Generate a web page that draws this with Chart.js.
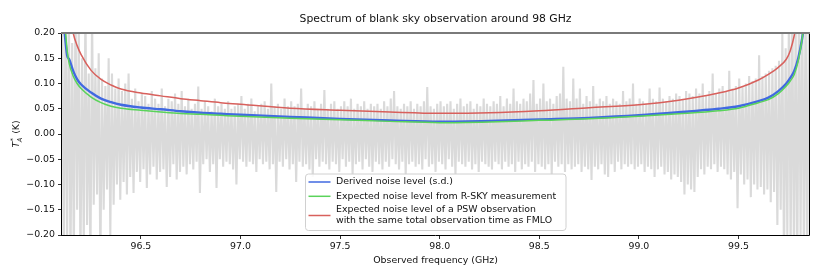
<!DOCTYPE html>
<html>
<head>
<meta charset="utf-8">
<script src="https://cdn.jsdelivr.net/npm/chart.js@4.4.1/dist/chart.umd.min.js"></script>
<style>
    html, body { margin: 0; padding: 0; background: #fff; }
    #wrap { width: 830px; height: 277px; }
</style>
</head>
<body>
<div id="wrap"><canvas id="chart" width="830" height="277"></canvas></div>
<script>
// frequency grid (GHz) for the three noise curves
const curveFreq = [96.11, 96.12, 96.13, 96.14, 96.16, 96.18, 96.20, 96.25, 96.30, 96.35, 96.40,
    96.50, 96.60, 96.70, 96.80, 96.90, 97.00, 97.25, 97.50, 97.75, 98.00, 98.25, 98.50, 98.75,
    99.00, 99.20, 99.40, 99.50, 99.60, 99.65, 99.70, 99.74, 99.76, 99.78, 99.80, 99.82, 99.83, 99.85];

// noise levels (K)
const derivedNoise = [0.23, 0.19, 0.155, 0.148, 0.125, 0.108, 0.098, 0.082, 0.070, 0.063, 0.058,
    0.0525, 0.049, 0.045, 0.042, 0.040, 0.038, 0.034, 0.030, 0.027, 0.0245, 0.026, 0.029, 0.032,
    0.037, 0.043, 0.050, 0.055, 0.065, 0.072, 0.085, 0.100, 0.111, 0.125, 0.150, 0.19, 0.22, 0.30];

const expectedRsky = [0.26, 0.21, 0.165, 0.140, 0.115, 0.100, 0.090, 0.073, 0.062, 0.055, 0.051,
    0.047, 0.0435, 0.0405, 0.039, 0.037, 0.035, 0.031, 0.028, 0.025, 0.0225, 0.024, 0.027, 0.030,
    0.035, 0.040, 0.046, 0.051, 0.062, 0.068, 0.080, 0.095, 0.105, 0.118, 0.145, 0.19, 0.22, 0.30];

const expectedPsw = [0.45, 0.36, 0.29, 0.245, 0.20, 0.175, 0.157, 0.126, 0.108, 0.097, 0.089,
    0.081, 0.0755, 0.070, 0.066, 0.062, 0.059, 0.051, 0.047, 0.0435, 0.041, 0.042, 0.046, 0.052,
    0.058, 0.067, 0.081, 0.091, 0.107, 0.118, 0.132, 0.148, 0.165, 0.195, 0.24, 0.30, 0.34, 0.45];

// blank sky spectrum, evenly spaced channels from 96.105 GHz, values in mK
const spectrumStart = 96.105;
const spectrumStep = 0.00833;
const spectrumMilliK = [
    260, -260, 240, -200, 260, -260, 180, -250, 260, -150,
    210, -260, 150, -220, 260, -180, 120, -260, 240, -140,
    130, -120, 160, -260, 110, -150, 95, -110, 150, -200,
    120, -140, 90, -100, 110, -130, 85, -95, 100, -120,
    120, -85, 70, -117, 90, -75, 65, -95, 80, -70,
    75, -107, 60, -80, 85, -65, 70, -90, 60, -75,
    90, -70, 55, -105, 70, -85, 65, -60, 80, -90,
    60, -75, 85, -65, 55, -80, 70, -60, 50, -70,
    60, -55, 94, -117, 50, -60, 65, -50, 55, -75,
    45, -60, 70, -107, 55, -50, 60, -65, 50, -55,
    65, -60, 50, -70, 55, -100, 60, -50, 75, -55,
    50, -65, 60, -55, 70, -60, 45, -75, 55, -50,
    60, -60, 65, -55, 50, -70, 100, -60, 55, -115,
    60, -55, 50, -65, 70, -50, 55, -70, 65, -60,
    55, -95, 60, -55, 90, -65, 50, -60, 60, -70,
    55, -85, 65, -50, 50, -65, 60, -55, 87, -60,
    50, -70, 60, -55, 65, -60, 50, -75, 55, -50,
    65, -65, 55, -55, 70, -80, 50, -60, 60, -55,
    55, -70, 65, -50, 50, -65, 60, -75, 55, -55,
    60, -60, 50, -70, 65, -55, 55, -65, 70, -50,
    85, -60, 55, -70, 50, -55, 60, -80, 55, -60,
    65, -55, 50, -65, 60, -60, 55, -70, 65, -50,
    93, -65, 55, -60, 50, -75, 60, -55, 65, -60,
    55, -70, 60, -50, 65, -65, 50, -80, 60, -55,
    70, -60, 55, -65, 60, -55, 65, -70, 50, -60,
    60, -75, 55, -55, 70, -60, 60, -65, 55, -70,
    65, -55, 60, -60, 75, -70, 55, -55, 70, -65,
    60, -60, 90, -75, 65, -55, 60, -70, 70, -60,
    65, -65, 80, -55, 107, -75, 60, -60, 70, -65,
    100, -70, 65, -60, 70, -80, 60, -55, 75, -65,
    80, -60, 133, -75, 70, -60, 65, -70, 110, -65,
    70, -60, 90, -75, 60, -65, 75, -70, 65, -91,
    95, -65, 60, -70, 70, -60, 65, -80, 75, -85,
    60, -60, 70, -75, 65, -55, 60, -70, 85, -60,
    65, -65, 70, -60, 100, -70, 60, -65, 70, -60,
    65, -75, 60, -65, 90, -70, 70, -85, 65, -70,
    92, -65, 70, -80, 65, -75, 75, -90, 70, -80,
    80, -85, 75, -95, 70, -120, 85, -100, 80, -110,
    75, -115, 90, -85, 80, -70, 100, -80, 75, -65,
    85, -70, 120, -60, 80, -75, 90, -65, 95, -70,
    85, -80, 125, -90, 90, -75, 95, -147, 110, -80,
    95, -100, 100, -90, 115, -125, 105, -100, 110, -110,
    156, -105, 115, -120, 120, -110, 125, -135, 130, -115,
    135, -180, 145, -150, 200, -260, 170, -200, 260, -230,
    260, -260, 220, -260, 260, -200, 260, -260, 260, -260,
    260
];

const xTickValues = [96.5, 97.0, 97.5, 98.0, 98.5, 99.0, 99.5];
const yTickValues = [-0.20, -0.15, -0.10, -0.05, 0.00, 0.05, 0.10, 0.15, 0.20];

const FONT = '"DejaVu Sans", sans-serif';
const BLUE = '#4169e1';
const GREEN = '#5ad35a';
const RED = '#d8605c';
const GREY = '#dadada';

function pairs(xs, ys) {
    return xs.map((x, i) => ({ x: x, y: ys[i] }));
}

const spectrumPoints = spectrumMilliK.map((v, i) => ({
    x: spectrumStart + i * spectrumStep,
    y: v / 1000,
}));

const framePlugin = {
    id: 'frame',
    afterDatasetsDraw(chart) {
        const a = chart.chartArea;
        const ctx = chart.ctx;
        ctx.save();
        ctx.strokeStyle = '#000';
        ctx.lineWidth = 1;
        ctx.beginPath();
        ctx.moveTo(Math.round(a.left) - 0.5, Math.round(a.top));
        ctx.lineTo(Math.round(a.left) - 0.5, Math.round(a.bottom) + 0.5);
        ctx.lineTo(Math.round(a.right) + 0.5, Math.round(a.bottom) + 0.5);
        ctx.lineTo(Math.round(a.right) + 0.5, Math.round(a.top));
        ctx.stroke();
        ctx.strokeStyle = '#7a7a7a';
        ctx.lineWidth = 2;
        ctx.beginPath();
        ctx.moveTo(Math.round(a.left) - 1, Math.round(a.top));
        ctx.lineTo(Math.round(a.right) + 1, Math.round(a.top));
        ctx.stroke();
        ctx.restore();
    },
};

const textPlugin = {
    id: 'texts',
    afterDraw(chart) {
        const a = chart.chartArea;
        const ctx = chart.ctx;
        ctx.save();

        // title
        ctx.fillStyle = '#111';
        ctx.font = '10.8px ' + FONT;
        ctx.textAlign = 'center';
        ctx.textBaseline = 'middle';
        ctx.fillText('Spectrum of blank sky observation around 98 GHz', (a.left + a.right) / 2, 19);

        // y axis title: T*_A (K)
        ctx.translate(16, (a.top + a.bottom) / 2);
        ctx.rotate(-Math.PI / 2);
        ctx.textAlign = 'left';
        ctx.textBaseline = 'alphabetic';
        ctx.font = 'italic 9.4px ' + FONT;
        const wT = ctx.measureText('T').width;
        ctx.font = '6.6px ' + FONT;
        const wS = ctx.measureText('*').width;
        ctx.font = 'italic 6.6px ' + FONT;
        const wA = ctx.measureText('A').width;
        ctx.font = '9.4px ' + FONT;
        const wK = ctx.measureText(' (K)').width;
        const total = wT + Math.max(wS, wA) + 0.5 + wK;
        let x = -total / 2;
        ctx.font = 'italic 9.4px ' + FONT;
        ctx.fillText('T', x, 3.4);
        x += wT + 0.5;
        ctx.font = '6.6px ' + FONT;
        ctx.fillText('*', x, -0.8);
        ctx.font = 'italic 6.6px ' + FONT;
        ctx.fillText('A', x - 0.8, 5.6);
        x += Math.max(wS, wA);
        ctx.font = '9.4px ' + FONT;
        ctx.fillText(' (K)', x, 3.4);
        ctx.restore();

        // legend box inside the axes
        ctx.save();
        const bx = a.left + 243.5;
        const by = a.bottom - 61;
        const bw = 260.5;
        const bh = 56.5;
        const r = 3;
        ctx.beginPath();
        ctx.moveTo(bx + r, by);
        ctx.arcTo(bx + bw, by, bx + bw, by + bh, r);
        ctx.arcTo(bx + bw, by + bh, bx, by + bh, r);
        ctx.arcTo(bx, by + bh, bx, by, r);
        ctx.arcTo(bx, by, bx + bw, by, r);
        ctx.closePath();
        ctx.fillStyle = 'rgba(255,255,255,0.85)';
        ctx.fill();
        ctx.strokeStyle = '#d0d0d0';
        ctx.lineWidth = 1;
        ctx.stroke();

        const rows = [
            { ds: 1, ys: [by + 8] },
            { ds: 2, ys: [by + 22.3] },
            { ds: 3, ys: [by + 36, by + 47] },
        ];
        ctx.font = '9.4px ' + FONT;
        ctx.textAlign = 'left';
        ctx.textBaseline = 'middle';
        rows.forEach((row) => {
            const ds = chart.data.datasets[row.ds];
            const lines = ds.label.split('\n');
            const ly = (row.ys[0] + row.ys[row.ys.length - 1]) / 2;
            ctx.strokeStyle = ds.borderColor;
            ctx.lineWidth = 1.5;
            ctx.beginPath();
            ctx.moveTo(bx + 3, ly);
            ctx.lineTo(bx + 25, ly);
            ctx.stroke();
            ctx.fillStyle = '#111';
            lines.forEach((t, i) => ctx.fillText(t, bx + 30.5, row.ys[i]));
        });
        ctx.restore();
    },
};

new Chart(document.getElementById('chart'), {
    type: 'line',
    data: {
        datasets: [
            {
                label: 'spectrum',
                data: spectrumPoints,
                borderColor: GREY,
                borderWidth: 2.1,
                borderJoinStyle: 'miter',
                pointRadius: 0,
                order: 3,
            },
            {
                label: 'Derived noise level (s.d.)',
                data: pairs(curveFreq, derivedNoise),
                borderColor: BLUE,
                borderWidth: 2.4,
                pointRadius: 0,
                cubicInterpolationMode: 'monotone',
                order: 2,
            },
            {
                label: 'Expected noise level from R-SKY measurement',
                data: pairs(curveFreq, expectedRsky),
                borderColor: GREEN,
                borderWidth: 1.5,
                pointRadius: 0,
                cubicInterpolationMode: 'monotone',
                order: 1,
            },
            {
                label: 'Expected noise level of a PSW observation\nwith the same total observation time as FMLO',
                data: pairs(curveFreq, expectedPsw),
                borderColor: RED,
                borderWidth: 1.5,
                pointRadius: 0,
                cubicInterpolationMode: 'monotone',
                order: 0,
            },
        ],
    },
    options: {
        responsive: false,
        animation: false,
        devicePixelRatio: 1,
        layout: { padding: { left: 0, top: 33, right: 21, bottom: 0 } },
        plugins: {
            legend: { display: false },
            tooltip: { enabled: false },
            title: { display: false },
        },
        scales: {
            x: {
                type: 'linear',
                min: 96.104,
                max: 99.854,
                afterFit: (scale) => { scale.height = 42; },
                afterBuildTicks: (scale) => { scale.ticks = xTickValues.map((v) => ({ value: v })); },
                ticks: {
                    color: '#111',
                    font: { family: FONT, size: 9.4 },
                    padding: 2,
                    maxRotation: 0,
                    callback: (v) => v.toFixed(1),
                },
                grid: { display: true, drawOnChartArea: false, drawTicks: true, tickLength: 4, color: '#000', lineWidth: 0.8 },
                border: { display: false },
                title: {
                    display: true,
                    text: 'Observed frequency (GHz)',
                    color: '#111',
                    font: { family: FONT, size: 9.4 },
                    padding: { top: 0, bottom: 11 },
                },
            },
            y: {
                type: 'linear',
                min: -0.2,
                max: 0.2,
                afterFit: (scale) => { scale.width = 62; },
                afterBuildTicks: (scale) => { scale.ticks = yTickValues.map((v) => ({ value: v })); },
                ticks: {
                    color: '#111',
                    font: { family: FONT, size: 9.4 },
                    padding: 3,
                    callback: (v) => (v < -1e-9 ? '\u2212' : '') + Math.abs(v).toFixed(2),
                },
                grid: { display: true, drawOnChartArea: false, drawTicks: true, tickLength: 4, color: '#000', lineWidth: 0.8 },
                border: { display: false },
            },
        },
    },
    plugins: [framePlugin, textPlugin],
});
</script>
</body>
</html>
